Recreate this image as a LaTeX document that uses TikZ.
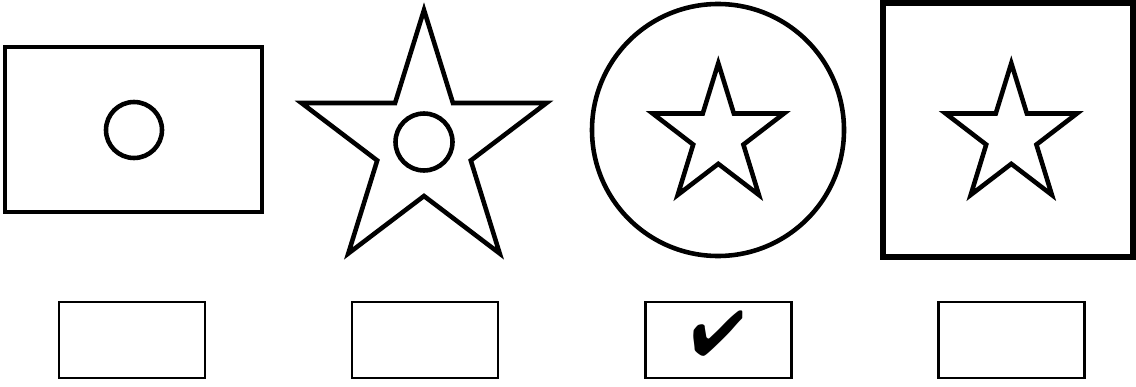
\documentclass[tikz,border=0pt]{standalone}
\usepackage{pifont}

\tikzset{
    shape line/.style={line width=2.6pt},
    frame line/.style={line width=3.4pt},
    answer box/.style={draw, line width=1.4pt, minimum width=2.92cm, minimum height=1.52cm, inner sep=0pt}
}

% 五角星路径: 中心, 外半径, 内半径
\newcommand{\fivestar}[3]{
    ($#1+(90:#2)$) \foreach \k in {1,...,9} {
        -- ($#1+({90+36*\k}:{ifthenelse(mod(\k,2)==0,#2,#3)})$)
    } -- cycle
}

\usetikzlibrary{calc}

\begin{document}
\begin{tikzpicture}[x=0.02cm, y=0.02cm]
    \useasboundingbox (0,0) rectangle (1136,386);

    % 第一个图形: 矩形中的圆
    \draw[shape line] (5,174) rectangle (262,339);
    \draw[shape line] (134,256) circle (28);

    % 第二个图形: 五角星中的圆
    \begin{scope}[shift={(424,241.4)}, yscale=1.045]
        \draw[shape line] \fivestar{(0,0)}{128.8}{49.2};
    \end{scope}
    \draw[shape line] (424,244) circle (28.5);

    % 第三个图形: 圆中的五角星
    \draw[shape line] (718,256) circle (126);
    \begin{scope}[shift={(718.3,250)}, yscale=1.055]
        \draw[shape line] \fivestar{(0,0)}{69}{26.4};
    \end{scope}

    % 第四个图形: 正方形中的五角星
    \draw[frame line] (883,129) rectangle (1133,383);
    \begin{scope}[shift={(1011.3,250)}, yscale=1.055]
        \draw[shape line] \fivestar{(0,0)}{69}{26.4};
    \end{scope}

    % 答案框
    \node[answer box] (boxA) at (132,46) {};
    \node[answer box] (boxB) at (425,46) {};
    \node[answer box] (boxC) at (718.5,46) {};
    \node[answer box] (boxD) at (1011.5,46) {};

    % 选中的答案
    \node[inner sep=0pt] (tick) at (718,52) {\fontsize{36}{36}\selectfont\ding{52}};
\end{tikzpicture}
\end{document}
